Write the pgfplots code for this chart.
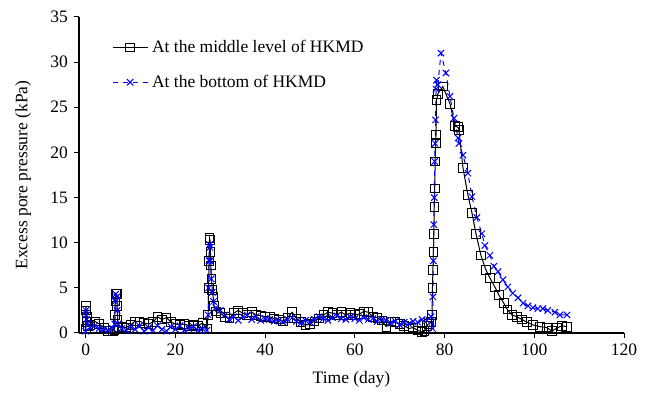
\documentclass[border=0pt]{standalone}
\usepackage{fontspec}
\setmainfont{Liberation Serif}
\usepackage{pgfplots}
\pgfplotsset{compat=1.18}
\begin{document}
\fontsize{10.5}{12.5}\selectfont
\begin{tikzpicture}
\begin{axis}[
  width=327pt, height=189.6pt, scale only axis,
  xmin=-1.5, xmax=120, ymin=0, ymax=35,
  axis x line*=bottom, axis y line*=left,
  axis line style={-, line width=0.8pt},
  tick align=outside, tick style={black, line width=0.6pt},
  major tick length=3pt,
  xtick={0,20,...,120}, ytick={0,5,...,35},
  /pgf/number format/assume math mode=true,
  tick label style={font=\fontsize{10.5}{12.5}\selectfont},
  label style={font=\fontsize{10.5}{12.5}\selectfont},
  xlabel={Time (day)}, ylabel={Excess pore pressure (kPa)},
  xlabel style={yshift=-2pt},
  ylabel style={yshift=4.4pt},
  legend style={draw=none, fill=none, at={(0.051,0.95)}, anchor=north west,
    font=\fontsize{10.5}{12.5}\selectfont, row sep=8pt},
  legend image code/.code={
    \draw[mark repeat=2,mark phase=2,#1] plot coordinates {(0cm,0cm) (0.37cm,0cm) (0.75cm,0cm)};
  },
  legend cell align=left,
]
\addplot[black, line width=0.6pt, mark=square, mark size=2.6pt, mark options={solid, line width=0.5pt}] coordinates {
(0,0.5) (0.05,3.0) (0.1,2.5) (0.2,1.8) (0.3,1.2) (0.5,0.8) (1,0.9) (2,1.3) (3,1.0) (4,0.6) (5,0.2) (6,0.2) (6.4,0.3) (6.5,2.0) (6.6,3.5) (6.7,4.4) (6.9,4.3) (7.0,3.0) (7.1,1.5) (7.3,0.6)
(8,0.7) (9,0.6) (10,0.9) (11,1.3) (12,1.3) (13,1.1) (14,1.0) (15,1.2) (16,1.8) (17,1.5) (18,1.7) (19,1.2) (20,1.0) (21,0.9) (22,1.0) (23,0.8) (24,0.9) (25,0.8) (26,1.1) (27,0.5)
(27.3,2.0) (27.4,5.0) (27.5,8.0) (27.6,10.5) (27.7,10.3) (27.8,9.0) (27.9,7.5) (28.0,6.0) (28.2,4.8) (28.4,4.0) (28.6,3.0) (29,2.4) (30,2.2) (31,1.8) (32,1.6) (33,2.2) (34,2.5) (35,2.2) (36,2.0) (37,2.3) (38,2.0) (39,1.9) (40,1.8)
(41,1.8) (42,1.6) (43,1.5) (44,1.3) (45,1.7) (46,2.3) (47,1.6) (48,1.2) (49,0.9) (50,1.0) (51,1.3) (52,1.6) (53,2.0) (54,2.3) (55,2.2) (56,2.0) (57,2.3) (58,2.0) (59,2.2) (60,2.0)
(61,2.1) (62,2.4) (63,2.3) (64,1.8) (65,1.7) (66,1.4) (67,0.7) (68,1.3) (69,1.2) (70,1.0) (71,0.8) (72,0.5) (73,0.6) (74,0.3) (75,0.1) (75.5,0.2) (76,0.8) (76.5,1.0) (77,1.2)
(77.2,2.0) (77.3,5) (77.4,7) (77.5,9) (77.6,11) (77.7,14) (77.8,16) (77.9,19) (78.0,21) (78.1,22) (78.2,25.8) (78.5,26.5) (79.6,27.3) (81.2,25.4) (82.3,22.9) (83.0,22.8) (83.2,22.5)
(84.1,18.3) (85.2,15.3) (86.1,13.3) (87.0,11.0) (88.1,8.6) (89.2,7.0) (90.1,6.1) (91.2,5.1) (92.1,4.2) (93.2,3.3) (94.0,2.6) (95.0,2.0) (96.1,1.8) (97.2,1.5) (98.4,1.2) (99.7,0.9)
(101.3,0.7) (102.8,0.6) (104.0,0.2) (105.0,0.55) (106.2,0.8) (107.3,0.7)
};
\addlegendentry{At the middle level of HKMD}
\addplot[blue, dashed, line width=0.6pt, mark=x, mark size=2.7pt, mark options={solid, line width=0.6pt}] coordinates {
(0,0.2) (0.05,2.5) (0.1,2.0) (0.2,1.5) (0.4,1.0) (1,0.6) (2,0.8) (3,0.5) (4,0.4) (5,0.3) (6,0.5) (6.5,1) (6.6,3.5) (6.7,4.3) (6.9,4.0) (7.0,2.5) (7.2,1.0)
(8,0.5) (9,0.3) (10,0.7) (11,0.4) (12,0.8) (13,0.2) (14,0.6) (15,0.3) (16,0.8) (17,0.4) (18,0.2) (19,0.7) (20,0.4) (21,0.8) (22,0.3) (23,0.5) (24,0.7) (25,0.3) (26,0.5) (27,0.3)
(27.3,2) (27.4,5) (27.5,8) (27.6,9.8) (27.7,9.5) (27.8,8) (28.0,6) (28.2,4.5) (28.5,3.5) (29,2.8) (30,2.5) (31,2.0) (32,1.5) (33,1.8) (34,1.4) (35,1.8) (36,2.0) (37,1.5) (38,1.8) (39,1.4) (40,1.6)
(41,1.5) (42,1.3) (43,1.4) (44,1.2) (45,1.5) (46,1.7) (47,1.3) (48,1.1) (49,1.4) (50,1.2) (51,1.5) (52,1.8) (53,1.6) (54,1.4) (55,1.7) (56,1.9) (57,1.6) (58,1.5) (59,1.8) (60,1.6)
(61,1.4) (62,1.7) (63,1.5) (64,1.6) (65,1.3) (66,1.5) (67,1.4) (68,1.1) (69,1.3) (70,0.9) (71,1.2) (72,1.0) (73,1.3) (74,1.2) (75,1.5) (76,1.4) (77,1.8)
(77.3,0.5) (77.4,4) (77.5,8) (77.6,12) (77.7,15) (77.8,19) (77.9,21) (78.0,23.6) (78.1,27) (78.2,28) (78.5,27.5) (79.2,31) (80.3,28.8) (81.2,26.2) (82.1,23.8) (83.0,21.6) (83.2,21.0)
(84.1,19.7) (85.2,17.7) (86.1,15.1) (87.2,12.8) (88.3,11) (89,9.7) (90.1,8.6) (91,7.4) (91.9,6.8) (93,5.9) (94.1,5.1) (95.2,4.4) (96.4,3.9) (97.5,3.3) (98.6,3.0) (99.7,2.8)
(100.8,2.7) (101.9,2.7) (103,2.5) (104.6,2.3) (105.7,2.0) (107.3,2.0)
};
\addlegendentry{At the bottom of HKMD}
\end{axis}
\path (current axis.south west) ++(-47.4pt,-31.8pt);
\path (current axis.north east) ++(13.2pt,10.2pt);
\end{tikzpicture}
\end{document}
